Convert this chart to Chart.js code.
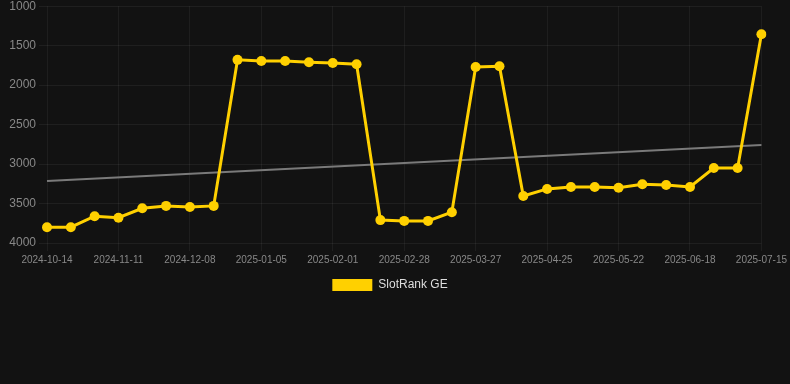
<!DOCTYPE html>
<html>
<head>
<meta charset="utf-8">
<script src="https://cdn.jsdelivr.net/npm/chart.js@4.4.1/dist/chart.umd.min.js"></script>
<style>
    html, body { margin: 0; padding: 0; background: #121212; overflow: hidden; }
    .chart-container { position: relative; width: 790px; height: 305px; margin-top: -4px; }
</style>
</head>
<body>
<div class="chart-container"><canvas id="rank-chart"></canvas></div>
<script>
const dates = [
    '2024-10-14', '2024-10-23', '2024-11-01', '2024-11-11', '2024-11-20', '2024-11-29',
    '2024-12-08', '2024-12-17', '2024-12-26', '2025-01-05', '2025-01-14', '2025-01-23',
    '2025-02-01', '2025-02-10', '2025-02-19', '2025-02-28', '2025-03-09', '2025-03-18',
    '2025-03-27', '2025-04-05', '2025-04-15', '2025-04-25', '2025-05-04', '2025-05-13',
    '2025-05-22', '2025-05-31', '2025-06-09', '2025-06-18', '2025-06-27', '2025-07-06',
    '2025-07-15'
];

const rankGE = [
    3800, 3800, 3660, 3680, 3560, 3530, 3545, 3530, 1680, 1695, 1695, 1710,
    1720, 1735, 3710, 3720, 3720, 3610, 1770, 1760, 3405, 3315, 3290, 3290,
    3300, 3255, 3265, 3290, 3050, 3050, 1355
];

// trend line, only the two ends are known
const trendStart = 3215;
const trendEnd = 2760;
const trend = dates.map((d, i) => i === 0 ? trendStart : (i === dates.length - 1 ? trendEnd : null));

const yTicks = [1000, 1500, 2000, 2500, 3000, 3500, 4000];

const font = { family: 'Arial, "Liberation Sans", sans-serif' };
const ctx = document.getElementById('rank-chart').getContext('2d');

new Chart(ctx, {
    type: 'line',
    data: {
        labels: dates,
        datasets: [
            {
                label: 'SlotRank GE',
                data: rankGE,
                borderColor: '#ffd000',
                backgroundColor: '#ffd000',
                borderWidth: 3,
                pointRadius: 5,
                pointHoverRadius: 5,
                pointBackgroundColor: '#ffd000',
                pointBorderWidth: 0,
                tension: 0
            },
            {
                label: 'Trend',
                data: trend,
                spanGaps: true,
                borderColor: '#7a7a7a',
                borderWidth: 2,
                pointRadius: 0,
                tension: 0
            }
        ]
    },
    options: {
        animation: false,
        responsive: true,
        maintainAspectRatio: false,
        layout: { padding: { right: 10 } },
        plugins: {
            legend: {
                position: 'bottom',
                labels: {
                    color: '#dddddd',
                    boxWidth: 40,
                    boxHeight: 12,
                    font: { ...font, size: 12 },
                    generateLabels: chart => Chart.defaults.plugins.legend.labels.generateLabels(chart)
                        .filter(item => item.text !== 'Trend')
                        .map(item => ({ ...item, lineWidth: 0 }))
                }
            },
            tooltip: { enabled: false }
        },
        scales: {
            x: {
                grid: { color: 'rgba(255,255,255,0.05)', tickLength: 8 },
                border: { display: false },
                ticks: {
                    color: '#888888',
                    maxRotation: 0,
                    autoSkip: false,
                    font: { ...font, size: 10 },
                    callback: function (val, idx) {
                        return idx % 3 === 0 ? this.getLabelForValue(val) : null;
                    }
                }
            },
            y: {
                reverse: true,
                min: 1000,
                max: 4000,
                grid: { color: 'rgba(255,255,255,0.06)', tickLength: 8 },
                border: { display: false },
                afterBuildTicks: axis => { axis.ticks = yTicks.map(v => ({ value: v })); },
                afterFit: axis => { axis.width = 47; },
                ticks: {
                    color: '#888888',
                    font: { ...font, size: 12 },
                    callback: v => String(v)
                }
            }
        }
    }
});
</script>
</body>
</html>
